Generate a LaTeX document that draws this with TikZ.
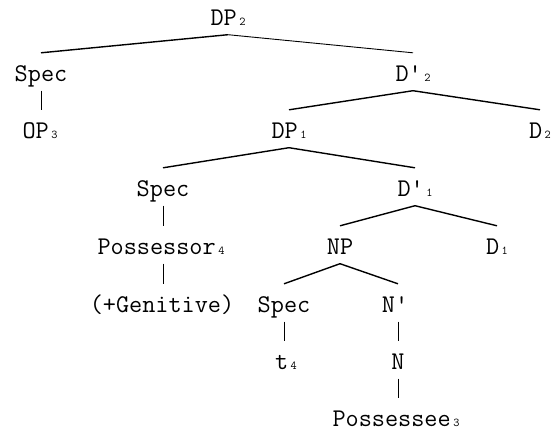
\documentclass[tikz,border=0pt]{standalone}
\usepackage{fontspec}
\usetikzlibrary{positioning}
\newcommand{\idx}[1]{\kern2.5pt{\fontsize{12}{12}\selectfont #1}}
\tikzset{
      cat/.style={anchor=base,inner sep=0pt,text height=28pt,text depth=9.5pt,
        font=\ttfamily\fontsize{25.5}{30}\selectfont},
      branch/.style={line width=1.4pt},
      unary/.style={line width=0.8pt}
    }

\begin{document}
\begin{tikzpicture}[x=1pt,y=-1pt]
\useasboundingbox (0,0) rectangle (553,432);
% categories, row by row
\node[cat] (dp2) at (228,25) {DP\idx{2}};
\node[cat] (spectop) at (41,81) {Spec};
\node[cat] (dbar2) at (413,81) {D'\idx{2}};
\node[cat] (op3) at (40,138) {OP\idx{3}};
\node[cat] (dp1) at (289,138) {DP\idx{1}};
\node[cat] (d2) at (540,138) {D\idx{2}};
\node[cat] (specposs) at (163,196) {Spec};
\node[cat] (dbar1) at (415,196) {D'\idx{1}};
\node[cat] (possr) at (161,254) {Possessor\idx{4}};
\node[cat] (np) at (340,254) {NP};
\node[cat] (d1) at (497,254) {D\idx{1}};
\node[cat] (gen) at (162,312) {(+Genitive)};
\node[cat] (specnp) at (284,312) {Spec};
\node[cat] (nbar) at (395,312) {N'};
\node[cat] (trace) at (286,369) {t\idx{4}};
\node[cat] (n) at (398,369) {N};
\node[cat] (possee) at (396,426) {Possessee\idx{3}};
% branches
\draw[branch] (dp2.south) -- (spectop.north);
\draw[line width=0.9pt] (dp2.south) -- (dbar2.north);
\draw[unary] (spectop.south) -- (spectop.south |- op3.north);
\draw[branch] (dbar2.south) -- (dp1.north);
\draw[branch] (dbar2.south) -- (d2.north);
\draw[branch] (dp1.south) -- (specposs.north);
\draw[branch] (dp1.south) -- (dbar1.north);
\draw[unary] (specposs.south) -- (specposs.south |- possr.north);
\draw[unary] (specposs.south |- possr.south) -- (specposs.south |- gen.north);
\draw[branch] (dbar1.south) -- (np.north);
\draw[branch] (dbar1.south) -- (d1.north);
\draw[branch] (np.south) -- (specnp.north);
\draw[branch] (np.south) -- (n.north |- nbar.north);
\draw[unary] (specnp.south) -- (specnp.south |- trace.north);
\draw[unary] (n.north |- nbar.south) -- (n.north);
\draw[unary] (n.south) -- (n.south |- possee.north);
\end{tikzpicture}
\end{document}
